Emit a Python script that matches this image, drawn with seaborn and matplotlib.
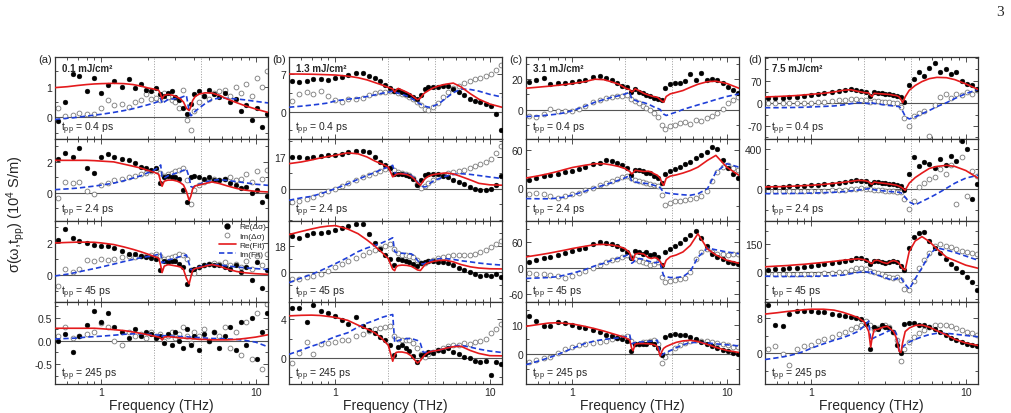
import numpy as np
import matplotlib
matplotlib.use("Agg")
import matplotlib.pyplot as plt
import seaborn as sns
from matplotlib.ticker import AutoMinorLocator, FixedLocator, LogLocator, NullFormatter
from matplotlib.lines import Line2D

# frequency grids (THz)
FREQ_DATA = [0.52, 0.58, 0.65, 0.72, 0.8, 0.9, 1.0, 1.1, 1.2, 1.35,
             1.5, 1.65, 1.8, 1.95, 2.1, 2.25, 2.4, 2.55, 2.7, 2.85,
             3.0, 3.2, 3.4, 3.6, 3.8, 4.0, 4.3, 4.6, 5.0, 5.4,
             5.8, 6.3, 6.8, 7.4, 8.0, 8.7, 9.4, 10.2, 11.0, 11.8]
FREQ_FIT = [0.5, 0.6, 0.7, 0.8, 0.9, 1.0, 1.2, 1.4, 1.6, 1.8,
            2.0, 2.2, 2.35, 2.42, 2.47, 2.55, 2.7, 2.9, 3.1, 3.25,
            3.4, 3.55, 3.7, 3.8, 3.9, 4.05, 4.3, 4.7, 5.2, 5.8,
            6.5, 7.5, 8.5, 10.0, 12.0]

# ---- (a) 0.1 mJ/cm2 ----
a1_re = [-0.12, 0.5, 1.42, 1.35, 0.85, 1.3, 0.8, 1.05, 1.2, 1.0, 1.25, 0.95, 1.1, 0.9, 0.85, 0.95, 0.75, 0.7, 0.8, 0.85,
         0.65, 0.55, 0.3, 0.1, 0.45, 0.75, 0.85, 0.7, 0.9, 0.75, 0.65, 0.8, 0.5, 0.6, 0.2, 0.4, -0.1, 0.3, -0.3, 0.1]
a1_im = [0.3, 0.05, 0.08, 0.15, 0.12, 0.1, 0.3, 0.55, 0.4, 0.45, 0.35, 0.5, 0.55, 0.75, 0.6, 0.62, 0.55, 0.8, 0.65, 0.55,
         0.5, 0.3, 0.9, -0.1, -0.4, 0.2, 0.5, 0.7, 0.6, 0.8, 0.85, 0.9, 0.7, 1.0, 0.8, 1.1, 0.7, 1.3, 1.0, 1.5]
a1_fit_re = [0.97, 1.0, 1.04, 1.07, 1.09, 1.1, 1.11, 1.1, 1.07, 1.02, 0.96, 0.92, 0.88, 0.75, 0.6, 0.72, 0.75, 0.72,
             0.66, 0.6, 0.5, 0.3, 0.22, 0.35, 0.55, 0.68, 0.76, 0.8, 0.79, 0.72, 0.6, 0.48, 0.38, 0.27, 0.16]
a1_fit_im = [-0.07, -0.03, 0.0, 0.04, 0.07, 0.1, 0.16, 0.22, 0.28, 0.35, 0.41, 0.47, 0.52, 0.62, 0.45, 0.5, 0.58, 0.6,
             0.62, 0.64, 0.68, 0.72, 0.2, 0.05, 0.1, 0.2, 0.3, 0.45, 0.58, 0.63, 0.62, 0.6, 0.57, 0.52, 0.47]

a2_re = [2.2, 2.6, 2.3, 2.9, 1.6, 1.3, 2.3, 2.5, 2.3, 2.2, 2.1, 1.9, 1.7, 1.6, 1.5, 1.6, 0.6, 1.0, 1.1, 1.0,
         1.0, 0.9, 0.2, -0.6, 1.0, 1.1, 1.0, 0.9, 1.0, 0.85, 0.8, 0.9, 0.6, 0.5, 0.3, 0.4, 0.0, 0.2, -0.6, -0.2]
a2_im = [-0.35, 0.7, 0.65, 0.7, 0.1, -0.05, 0.5, 0.6, 0.8, 0.9, 1.0, 1.1, 1.2, 1.3, 1.4, 1.5, 1.3, 1.1, 1.2, 1.3,
         1.4, 1.5, 1.6, 0.8, -0.7, 0.2, 0.5, 0.7, 0.8, 0.9, 0.8, 0.9, 1.0, 0.8, 0.9, 1.2, 0.7, 1.4, 0.9, 1.5]
a2_fit_re = [2.1, 2.1, 2.1, 2.1, 2.08, 2.05, 2.0, 1.85, 1.72, 1.6, 1.45, 1.32, 1.2, 0.7, 0.42, 0.75, 0.82, 0.82,
             0.75, 0.65, 0.5, 0.1, -0.5, -0.2, 0.25, 0.45, 0.5, 0.6, 0.7, 0.6, 0.45, 0.28, 0.17, 0.09, 0.05]
a2_fit_im = [0.2, 0.25, 0.3, 0.37, 0.43, 0.5, 0.62, 0.78, 0.95, 1.1, 1.3, 1.48, 1.65, 1.8, 1.0, 0.95, 1.1, 1.2,
             1.3, 1.38, 1.45, 1.55, 1.0, 0.4, 0.35, 0.45, 0.55, 0.7, 0.8, 0.85, 0.8, 0.72, 0.65, 0.55, 0.48]

a3_re = [2.2, 2.85, 2.3, 2.1, 2.0, 1.9, 1.8, 1.8, 1.7, 1.5, 1.3, 1.3, 1.2, 1.1, 1.05, 1.0, 0.3, 0.9, 0.8, 0.9,
         0.85, 0.7, 0.5, -0.55, 0.3, 0.4, 0.5, 0.6, 0.7, 0.6, 0.65, 0.5, 0.4, 0.6, 0.2, 0.5, -0.3, 0.8, -0.8, 0.3]
a3_im = [-0.7, 0.4, 0.2, 0.35, 0.95, 0.9, 1.0, 0.95, 1.0, 1.1, 1.2, 1.15, 1.2, 1.2, 1.25, 1.3, 1.2, 1.0, 1.05, 1.1,
         1.2, 1.3, 1.25, 1.0, 0.3, 0.15, 0.5, 0.6, 0.7, 0.75, 0.7, 0.8, 0.6, 0.7, 0.5, 0.9, 0.4, 1.2, 0.6, 1.3]
a3_fit_re = [2.0, 2.03, 2.05, 2.05, 2.04, 2.0, 1.9, 1.75, 1.6, 1.45, 1.3, 1.15, 1.05, 0.6, 0.15, 0.55, 0.65, 0.6,
             0.55, 0.5, 0.35, -0.2, -0.55, -0.1, 0.3, 0.4, 0.45, 0.55, 0.65, 0.55, 0.38, 0.22, 0.14, 0.08, 0.04]
a3_fit_im = [-0.06, 0.05, 0.18, 0.3, 0.4, 0.5, 0.68, 0.84, 0.97, 1.08, 1.15, 1.22, 1.3, 1.38, 0.75, 0.8, 0.95, 1.0,
             1.1, 1.15, 1.2, 1.25, 0.7, 0.35, 0.3, 0.4, 0.5, 0.6, 0.65, 0.62, 0.57, 0.5, 0.45, 0.4, 0.34]

a4_re = [0.0, 0.15, -0.25, 0.1, 0.35, 0.65, 0.4, 0.6, 0.3, 0.2, 0.05, 0.25, 0.1, 0.2, 0.15, 0.05, 0.1, -0.05, 0.15, -0.1,
         0.2, 0.0, -0.15, 0.25, -0.1, 0.1, -0.2, 0.15, 0.0, 0.2, -0.15, 0.1, 0.3, -0.2, 0.4, -0.1, 0.5, -0.4, 0.2, 0.6]
a4_im = [0.1, 0.3, 0.05, 0.1, 0.15, 0.2, 0.38, 0.3, 0.0, -0.08, 0.2, 0.1, 0.15, 0.05, 0.2, 0.1, 0.15, 0.0, 0.1, 0.2,
         0.05, 0.15, 0.3, 0.1, -0.05, 0.2, 0.1, 0.25, 0.0, 0.2, 0.1, 0.3, -0.15, 0.2, -0.3, 0.4, -0.4, 0.6, -0.6, 0.8]
a4_fit_re = [0.27, 0.27, 0.27, 0.27, 0.27, 0.26, 0.24, 0.22, 0.19, 0.16, 0.13, 0.1, 0.08, 0.06, 0.02, 0.08, 0.09, 0.08,
             0.07, 0.06, 0.06, 0.05, 0.05, 0.05, 0.04, 0.04, 0.03, 0.03, 0.02, 0.02, 0.02, 0.03, 0.05, 0.08, 0.13]
a4_fit_im = [0.04, 0.05, 0.06, 0.08, 0.09, 0.1, 0.12, 0.14, 0.15, 0.15, 0.14, 0.13, 0.12, 0.15, 0.1, 0.11, 0.11, 0.1,
             0.1, 0.09, 0.09, 0.09, 0.08, 0.08, 0.08, 0.07, 0.07, 0.06, 0.05, 0.05, 0.04, 0.03, 0.01, -0.03, -0.13]

# ---- (b) 1.3 mJ/cm2 ----
b1_re = [5.6, 5.5, 5.7, 6.0, 6.1, 5.8, 6.2, 6.5, 6.8, 7.2, 7.1, 6.7, 6.2, 5.6, 4.9, 4.4, 3.8, 4.0, 3.6, 3.3,
         3.1, 2.8, 2.4, 3.0, 4.2, 4.6, 4.5, 4.6, 4.8, 4.7, 4.2, 3.6, 3.0, 2.4, 2.0, 1.7, 1.4, 1.0, -0.5, -3.5]
b1_im = [2.0, 3.2, 3.6, 3.3, 3.9, 2.9, 2.2, 1.7, 2.3, 2.4, 2.6, 3.0, 3.4, 3.6, 3.7, 3.9, 3.8, 3.4, 3.3, 3.0,
         2.8, 2.4, 1.8, 1.2, 0.5, 0.2, 0.8, 1.5, 2.8, 3.6, 4.3, 4.8, 5.3, 5.6, 6.0, 6.3, 6.6, 7.0, 7.8, 8.6]
b1_fit_re = [7.0, 6.98, 6.95, 6.9, 6.85, 6.8, 6.6, 6.3, 5.9, 5.4, 4.95, 4.5, 4.2, 3.6, 4.0, 4.3, 4.0, 3.6,
             3.1, 2.6, 2.2, 2.5, 3.2, 3.5, 3.7, 4.0, 4.4, 4.8, 5.1, 5.3, 4.6, 3.3, 2.3, 1.4, 0.8]
b1_fit_im = [0.8, 1.0, 1.2, 1.4, 1.6, 2.0, 2.3, 2.5, 2.8, 3.1, 3.4, 3.6, 3.8, 3.9, 3.5, 3.4, 3.2, 2.9,
             2.5, 2.1, 1.7, 1.4, 1.1, 1.0, 0.9, 0.8, 1.0, 1.5, 2.5, 3.5, 4.2, 4.1, 3.8, 3.2, 2.7]

b2_re = [17.0, 17.0, 16.5, 17.0, 17.3, 17.8, 18.2, 18.8, 19.4, 20.0, 20.3, 19.5, 16.8, 14.5, 12.5, 11.0, 8.0, 8.0, 7.6, 7.4,
         6.8, 5.0, 2.0, 4.5, 7.2, 7.8, 7.8, 7.6, 7.0, 6.0, 4.8, 3.6, 2.4, 1.0, 0.0, -1.0, -0.8, -0.5, 2.0, 7.0]
b2_im = [-7.0, -6.5, -5.5, -4.5, -3.0, -1.5, 0.0, 1.5, 3.0, 4.5, 6.0, 7.2, 8.2, 9.5, 10.3, 11.0, 10.0, 9.0, 8.5, 8.0,
         7.2, 5.5, 2.5, 0.5, 1.5, 3.0, 4.8, 6.0, 7.2, 8.2, 9.0, 9.6, 10.2, 11.0, 12.0, 13.2, 14.5, 16.0, 19.0, 23.0]
b2_fit_re = [13.4, 14.3, 15.4, 16.5, 17.3, 17.9, 19.2, 18.7, 17.0, 14.8, 13.2, 11.6, 6.3, 7.0, 7.6, 8.0, 7.9, 7.5,
             6.5, 5.0, 3.0, 1.8, 4.0, 5.2, 6.0, 6.8, 7.5, 8.0, 8.4, 7.9, 6.5, 4.6, 2.8, 2.0, 1.8]
b2_fit_im = [-6.3, -5.0, -4.2, -2.8, -1.4, 0.0, 2.5, 5.0, 7.0, 8.7, 10.3, 11.6, 12.5, 8.5, 8.0, 8.0, 8.0, 8.0,
             7.0, 5.5, 3.6, 2.0, 1.0, 0.9, 1.2, 2.5, 4.0, 5.4, 6.7, 7.6, 8.0, 7.6, 7.0, 6.2, 5.4]

b3_re = [24.5, 23.5, 25.5, 26.8, 26.5, 27.5, 28.5, 30.5, 31.5, 32.7, 33.2, 26.0, 20.0, 16.0, 12.0, 9.0, 5.0, 9.0, 8.5, 7.5,
         7.0, 5.5, 4.5, 6.0, 7.0, 7.5, 7.5, 7.0, 7.0, 6.5, 5.0, 3.0, 1.5, 0.0, -1.5, -2.9, -2.0, -2.8, -1.5, -3.0]
b3_im = [-5.0, -4.5, -3.5, -2.5, -1.0, 1.0, 3.5, 5.5, 7.5, 9.5, 11.5, 13.5, 15.0, 16.5, 18.0, 19.5, 16.0, 13.0, 12.0, 11.5,
         11.0, 10.0, 8.5, 6.5, 6.0, 7.5, 8.5, 9.5, 10.5, 11.0, 11.5, 11.8, 12.0, 12.0, 12.5, 13.5, 15.0, 17.0, 19.5, 21.5]
b3_fit_re = [25.7, 27.8, 29.5, 30.8, 31.5, 31.8, 29.5, 26.3, 22.0, 17.8, 13.5, 9.2, 2.0, 1.0, 3.5, 4.5, 4.8, 4.6,
             4.0, 2.8, 1.5, 1.1, 3.5, 5.0, 5.9, 6.5, 7.3, 8.0, 8.1, 7.0, 5.2, 3.6, 2.8, 2.3, 2.2]
b3_fit_im = [-7.2, -4.0, -1.5, 1.0, 3.5, 5.8, 10.0, 14.0, 16.5, 18.3, 20.0, 22.0, 23.5, 14.0, 13.5, 13.2, 12.9, 12.7,
             12.5, 11.0, 8.0, 6.0, 5.5, 6.0, 6.5, 7.5, 8.5, 9.2, 9.2, 8.7, 7.8, 7.0, 6.2, 5.4, 4.8]

b4_re = [5.2, 5.2, 3.7, 5.5, 4.9, 4.7, 4.4, 3.9, 3.5, 4.2, 3.3, 2.9, 2.6, 2.2, 1.8, 1.3, 0.3, 1.1, 1.3, 1.0,
         0.7, 0.2, -0.4, 0.3, 0.4, 0.6, 0.5, 0.8, 0.7, 1.0, 0.6, 0.4, 0.1, 0.0, -0.3, -0.4, -0.3, -1.8, -0.4, -0.6]
b4_im = [-0.5, 0.5, 1.6, 0.4, 1.4, 1.5, 1.6, 1.8, 1.9, 2.3, 2.5, 2.8, 3.0, 3.1, 3.2, 3.3, 2.3, 2.0, 1.8, 1.9,
         1.8, 1.5, 1.0, 0.4, 0.1, 0.4, 0.6, 0.8, 1.0, 1.2, 1.3, 1.3, 1.5, 1.4, 1.6, 1.7, 2.0, 2.6, 3.0, 3.5]
b4_fit_re = [4.36, 4.42, 4.44, 4.4, 4.3, 4.2, 3.9, 3.4, 3.0, 2.6, 2.0, 1.3, -0.36, 0.3, 0.55, 0.6, 0.6, 0.5,
             0.2, -0.2, -0.55, -0.3, 0.1, 0.3, 0.45, 0.6, 0.7, 0.8, 1.0, 1.15, 1.2, 0.75, 0.45, 0.22, 0.2]
b4_fit_im = [0.36, 0.8, 1.2, 1.5, 1.9, 2.2, 2.6, 3.2, 3.6, 3.9, 4.2, 4.4, 4.5, 1.6, 1.7, 1.8, 1.9, 2.0,
             2.0, 1.9, 1.8, 1.5, 0.6, 0.55, 0.6, 0.65, 0.7, 0.8, 1.0, 1.2, 1.3, 1.1, 0.9, 0.7, 0.55]

# ---- (c) 3.1 mJ/cm2 ----
c1_re = [18.0, 19.0, 20.5, 16.5, 17.0, 17.5, 18.0, 18.5, 19.0, 21.5, 22.0, 20.5, 19.0, 17.0, 15.5, 14.5, 11.5, 13.5, 11.5, 10.5,
         9.5, 8.5, 7.5, 7.0, 6.5, 14.0, 16.5, 17.0, 17.5, 18.5, 23.0, 19.0, 24.0, 19.5, 20.0, 19.0, 17.0, 15.0, 13.0, 11.0]
c1_im = [-4.0, -5.0, -3.0, 0.4, -0.8, -0.7, -1.0, 0.5, 2.6, 4.8, 6.5, 7.5, 8.0, 8.5, 9.0, 9.2, 7.0, 5.5, 4.0, 2.5,
         1.0, -0.5, -2.0, -5.0, -10.0, -12.5, -11.0, -10.0, -9.0, -8.0, -9.5, -7.0, -7.5, -5.5, -4.5, -2.0, 0.5, 4.0, 6.5, 8.0]
c1_fit_re = [13.9, 14.6, 15.2, 15.8, 16.4, 17.0, 18.2, 19.8, 19.5, 18.0, 16.5, 14.0, 13.0, 11.5, 12.0, 13.5, 12.3, 10.5,
             9.5, 8.8, 8.3, 8.0, 6.5, 5.5, 4.8, 8.5, 10.2, 11.2, 12.4, 14.5, 16.5, 18.2, 18.5, 17.0, 13.9]
c1_fit_im = [-4.6, -4.2, -3.6, -3.0, -2.0, -0.7, 2.0, 4.8, 6.5, 8.0, 9.0, 10.2, 11.3, 7.0, 6.5, 6.0, 5.0, 4.5,
             3.5, 2.5, 1.5, 0.8, 0.0, -1.5, -3.0, -3.9, -3.0, -1.7, 0.0, 1.5, 3.0, 4.8, 6.5, 8.5, 10.2]

c2_re = [12.0, 16.0, 18.0, 20.0, 22.0, 24.5, 27.0, 30.0, 33.0, 38.0, 40.5, 44.0, 42.5, 40.0, 36.0, 31.0, 20.0, 29.0, 29.0, 27.0,
         24.0, 23.0, 18.0, 16.0, 8.0, 22.0, 27.0, 30.0, 33.0, 38.0, 42.0, 47.0, 53.0, 58.0, 65.0, 62.0, 45.0, 32.0, 22.0, 16.0]
c2_im = [-10.0, -9.0, -10.0, -14.0, -16.5, -13.0, -10.5, -8.0, -4.0, 0.0, 3.5, 7.0, 10.0, 14.0, 17.0, 19.5, 15.0, 12.0, 10.0, 9.0,
         8.0, 6.0, 4.0, 2.0, -12.0, -28.0, -24.0, -22.0, -21.0, -20.0, -18.0, -16.0, -14.0, -5.0, 10.0, 25.0, 33.0, 36.0, 32.0, 28.0]
c2_fit_re = [15.5, 19.0, 22.5, 26.0, 29.5, 32.5, 36.0, 38.5, 38.5, 36.5, 34.0, 30.5, 26.0, 22.0, 24.0, 28.0, 27.0, 26.0,
             26.5, 25.0, 22.0, 20.0, 15.0, 8.0, 3.7, 15.0, 18.5, 20.5, 23.5, 27.5, 33.0, 44.0, 52.0, 33.0, 19.8]
c2_fit_im = [-17.7, -18.0, -18.0, -17.0, -15.0, -12.0, -6.0, 0.0, 4.0, 8.0, 12.0, 16.0, 19.8, 10.2, 9.5, 9.0, 8.0, 7.0,
             6.4, 5.0, 3.5, 2.0, 0.0, -4.0, -7.0, -8.5, -9.6, -10.5, -11.5, -12.3, -10.0, -1.6, 25.0, 38.6, 33.0]

c3_re = [14.5, 18.0, 22.0, 26.0, 29.0, 35.0, 40.0, 43.0, 46.0, 55.0, 60.0, 58.0, 55.0, 50.0, 45.0, 38.0, 22.0, 40.0, 38.0, 32.0,
         36.0, 30.0, 33.0, 25.0, 8.0, 36.0, 45.0, 50.0, 58.0, 66.0, 75.0, 86.0, 70.0, 50.0, 33.0, 25.0, 20.0, 15.0, 12.0, 10.0]
c3_im = [-11.0, -13.0, -14.0, -15.0, -18.0, -22.0, -18.0, -12.0, -7.0, 0.0, 8.0, 15.0, 18.0, 21.0, 25.0, 29.0, 25.0, 20.0, 17.0, 13.0,
         11.0, 8.0, 10.0, 14.0, -20.0, -33.0, -30.0, -28.0, -26.0, -22.0, -10.0, 20.0, 38.0, 44.0, 38.0, 33.0, 33.0, 30.0, 32.0, 33.0]
c3_fit_re = [25.6, 30.0, 34.0, 38.0, 41.5, 45.0, 50.0, 54.0, 54.5, 53.0, 50.0, 44.0, 35.0, 22.0, 18.0, 32.0, 34.0, 32.0,
             24.0, 22.0, 24.0, 22.0, 15.0, 8.0, 3.7, 18.0, 26.0, 30.0, 37.0, 52.0, 79.0, 44.0, 30.0, 18.0, 11.0]
c3_fit_im = [-24.0, -23.0, -22.0, -20.0, -16.0, -12.0, -4.0, 5.0, 11.0, 18.0, 23.0, 28.0, 33.0, 11.0, 13.0, 18.0, 22.0, 20.0,
             16.0, 14.0, 12.0, 13.0, 14.6, -5.0, -18.0, -20.0, -22.0, -22.0, -20.0, -8.0, 25.0, 46.0, 42.0, 37.0, 33.0]

c4_re = [13.0, 11.2, 9.5, 9.5, 10.8, 10.5, 9.8, 9.3, 9.0, 8.0, 7.5, 6.6, 6.0, 5.5, 5.0, 4.4, 1.0, 3.5, 3.6, 3.4,
         3.6, 4.0, 3.5, 2.0, -0.3, 5.9, 6.5, 6.8, 6.5, 6.4, 5.8, 5.0, 4.2, 3.5, 2.8, 2.0, 1.5, 1.0, 0.5, 0.0]
c4_im = [-2.7, -1.8, -1.4, -0.8, 0.5, 1.8, 2.6, 3.1, 3.5, 3.8, 4.2, 4.6, 5.0, 5.4, 5.8, 6.2, 4.5, 3.5, 3.6, 4.0,
         4.2, 4.6, 4.8, 3.5, -3.0, -1.0, 0.8, 2.0, 3.0, 3.8, 4.3, 4.7, 4.5, 4.3, 4.0, 3.8, 3.5, 3.0, 2.6, 2.3]
c4_fit_re = [9.4, 10.0, 10.5, 10.6, 10.4, 10.2, 9.4, 8.6, 7.8, 7.0, 6.3, 5.6, 4.8, 2.0, 1.2, 3.4, 3.6, 3.6,
             3.5, 3.4, 3.2, 2.6, -0.6, 1.0, 2.0, 2.6, 3.2, 4.0, 4.5, 4.7, 4.3, 3.3, 2.3, 1.3, 0.6]
c4_fit_im = [-3.5, -2.3, -1.2, -0.1, 1.0, 2.0, 3.6, 4.5, 5.0, 5.3, 5.5, 5.9, 6.5, 3.5, 3.7, 3.9, 4.1, 4.2,
             4.3, 4.4, 4.6, 4.7, 0.2, -0.3, 0.2, 0.6, 1.2, 2.2, 3.2, 3.9, 4.0, 3.8, 3.5, 3.2, 2.8]

# ---- (d) 7.5 mJ/cm2 ----
d1_re = [16.0, 17.0, 18.0, 19.5, 21.0, 24.0, 27.0, 30.0, 32.0, 35.0, 38.0, 40.0, 44.0, 42.0, 38.0, 34.0, 22.0, 34.0, 32.0, 31.0,
         30.0, 28.0, 26.0, 24.0, 20.0, 5.0, 55.0, 75.0, 95.0, 85.0, 110.0, 125.0, 98.0, 105.0, 90.0, 95.0, 70.0, 60.0, 55.0, 45.0]
d1_im = [2.0, 2.0, 1.5, 1.0, 1.0, 2.0, 2.0, 3.0, 4.0, 6.0, 9.0, 11.0, 12.0, 13.0, 11.0, 9.0, 5.0, 8.0, 6.0, 5.0,
         4.0, 3.0, 2.0, 0.0, -10.0, -45.0, -70.0, -38.0, -30.0, -25.0, -100.0, -5.0, 20.0, 30.0, 15.0, 30.0, 25.0, 35.0, 30.0, 40.0]
d1_fit_re = [19.6, 21.0, 22.5, 24.0, 26.0, 27.8, 31.0, 35.0, 40.0, 42.0, 37.0, 33.0, 32.0, 24.0, 21.0, 31.0, 30.0, 29.0,
             28.0, 27.0, 25.0, 24.0, 20.0, 12.0, 2.0, 20.0, 40.0, 55.0, 67.0, 76.0, 80.0, 79.0, 73.0, 60.0, 43.0]
d1_fit_im = [-13.4, -13.4, -13.0, -12.5, -12.0, -11.0, -9.5, -8.0, -5.0, -1.0, 2.0, 1.0, -1.0, 6.0, 1.0, 0.0, -2.0, -4.0,
             -6.0, -7.0, -8.0, -9.0, -10.0, -15.0, -24.0, -40.0, -48.0, -42.0, -32.0, -22.0, -10.0, 2.0, 15.0, 30.0, 43.0]

d2_re = [20, 22, 24, 28, 30, 35, 38, 42, 48, 55, 62, 70, 82, 90, 85, 80, 50, 75, 68, 62,
         60, 55, 50, 45, 35, -10, 150, 320, 230, 270, 250, 210, 300, 240, 330, 280, 480, 400, -100, 50]
d2_im = [-15, -15, -18, -18, -18, -18, -18, -16, -15, -12, -8, -5, 0, 5, 8, 5, 0, -5, -10, -12,
         -15, -18, -20, -25, -30, -100, -190, -120, 20, 60, 100, 120, 200, 150, 240, -150, 320, -70, 180, 130]
d2_fit_re = [23, 25, 28, 32, 36, 39, 48, 58, 68, 78, 88, 85, 75, 55, 50, 72, 65, 60,
             55, 50, 45, 40, 30, 22, 10, -10, 60, 115, 160, 205, 225, 236, 225, 185, 110]
d2_fit_im = [-43, -43, -42, -41, -40, -38, -34, -30, -24, -16, -8, 0, 5, 15, 0, -5, -10, -15,
             -20, -23, -25, -27, -30, -35, -45, -80, -125, -155, -120, -85, -45, 10, 60, 110, 138]

d3_re = [10, 12, 15, 18, 22, 26, 30, 35, 40, 48, 55, 60, 65, 75, 72, 65, 40, 60, 60, 55,
         45, 52, 60, 50, 30, 10, 130, 190, 210, 215, 170, 130, 100, 70, 40, 20, 0, -30, -60, -100]
d3_im = [-10, -12, -13, -14, -15, -15, -14, -12, -10, -8, -5, 0, 10, 18, 22, 15, 5, 0, -8, -15,
         -25, -32, -38, -30, -45, -95, -100, -50, 20, 62, 100, 140, 150, 140, 135, 125, 115, 110, 100, 95]
d3_fit_re = [26, 30, 33, 37, 40, 44, 50, 56, 62, 66, 70, 65, 55, 45, 44, 60, 62, 50,
             44, 55, 60, 56, 45, 30, 15, 9, 110, 168, 192, 165, 125, 79, 60, 35, 18]
d3_fit_im = [-26, -27, -27, -27, -26, -26, -25, -23, -20, -12, -5, 0, -5, 9, -10, -12, -20, -30,
             -38, -44, -44, -40, -30, -35, -50, -70, -97, -40, 20, 95, 130, 118, 105, 85, 62]

d4_re = [11.0, 6.6, 6.2, 9.0, 9.6, 9.8, 9.6, 9.5, 9.4, 9.0, 8.8, 8.6, 8.4, 8.2, 7.8, 6.8, 1.0, 6.0, 5.6, 6.4,
         6.0, 5.8, 5.0, 2.0, 0.2, 6.8, 7.0, 7.0, 6.6, 6.4, 6.0, 5.5, 5.0, 4.2, 3.5, 3.0, 2.6, 2.2, 2.0, 1.6]
d4_im = [1.0, 1.8, -0.2, -2.6, 1.0, 1.6, 2.0, 2.8, 3.2, 3.8, 4.4, 5.0, 5.5, 6.0, 6.5, 7.5, 6.5, 5.5, 5.8, 6.2,
         6.4, 6.0, 5.0, 3.0, -1.8, 1.0, 2.5, 3.8, 4.6, 5.4, 6.0, 6.4, 6.6, 6.4, 6.2, 5.8, 5.4, 5.0, 4.6, 4.2]
d4_fit_re = [9.0, 9.3, 9.6, 9.8, 10.0, 10.1, 10.1, 9.9, 9.4, 8.8, 8.2, 7.2, 5.0, 1.4, 3.5, 5.4, 5.5, 6.0,
             6.2, 5.6, 5.0, 3.5, 0.5, 0.2, 2.5, 5.0, 5.8, 6.4, 6.5, 6.0, 5.2, 4.2, 3.2, 2.4, 1.8]
d4_fit_im = [-1.4, -1.0, -0.6, -0.1, 0.5, 1.2, 2.2, 3.0, 3.6, 4.3, 5.0, 6.3, 7.4, 3.0, 3.3, 3.6, 4.0, 4.5,
             5.0, 5.3, 5.4, 4.5, 0.6, 1.0, 1.5, 2.0, 2.6, 3.2, 3.8, 4.3, 4.6, 4.6, 4.4, 4.1, 3.8]

LETTERS = ["(a)", "(b)", "(c)", "(d)"]
FLUENCES = ["0.1 mJ/cm²", "1.3 mJ/cm²", "3.1 mJ/cm²", "7.5 mJ/cm²"]
DELAYS = ["0.4", "2.4", "45", "245"]
PHONON_LINES = [2.2, 4.4]

YLIMS = [[(-0.7, 1.97), (-1.8, 3.5), (-1.7, 3.4), (-0.93, 0.83)],
         [(-5.07, 10.16), (-17.2, 26.8), (-20.6, 35.3), (-2.73, 5.78)],
         [(-19.1, 34.3), (-53, 78.8), (-79, 109.6), (-10, 17.5)],
         [(-109, 142.7), (-308, 498), (-169, 280.7), (-7, 11.7)]]
YTICKS = [[[0, 1], [0, 2], [0, 2], [-0.5, 0.0, 0.5]],
          [[0, 7], [0, 17], [0, 18], [0, 4]],
          [[0, 20], [0, 60], [-60, 0, 60], [0, 10]],
          [[-70, 0, 70], [0, 400], [0, 150], [0, 8]]]
YTICKLABELS = [[["0", "1"], ["0", "2"], ["0", "2"], ["-0.5", "0.0", "0.5"]],
               [["0", "7"], ["0", "17"], ["0", "18"], ["0", "4"]],
               [["0", "20"], ["0", "60"], ["-60", "0", "60"], ["0", "10"]],
               [["-70", "0", "70"], ["0", "400"], ["0", "150"], ["0", "8"]]]

PANELS = [
    [(a1_re, a1_im, a1_fit_re, a1_fit_im), (a2_re, a2_im, a2_fit_re, a2_fit_im),
     (a3_re, a3_im, a3_fit_re, a3_fit_im), (a4_re, a4_im, a4_fit_re, a4_fit_im)],
    [(b1_re, b1_im, b1_fit_re, b1_fit_im), (b2_re, b2_im, b2_fit_re, b2_fit_im),
     (b3_re, b3_im, b3_fit_re, b3_fit_im), (b4_re, b4_im, b4_fit_re, b4_fit_im)],
    [(c1_re, c1_im, c1_fit_re, c1_fit_im), (c2_re, c2_im, c2_fit_re, c2_fit_im),
     (c3_re, c3_im, c3_fit_re, c3_fit_im), (c4_re, c4_im, c4_fit_re, c4_fit_im)],
    [(d1_re, d1_im, d1_fit_re, d1_fit_im), (d2_re, d2_im, d2_fit_re, d2_fit_im),
     (d3_re, d3_im, d3_fit_re, d3_fit_im), (d4_re, d4_im, d4_fit_re, d4_fit_im)],
]

RED = "#e41a1c"
BLUE = "#1f3fd8"
OPEN_EDGE = "#7a7a7a"

sns.set_style("ticks")
plt.rcParams["font.family"] = ["Liberation Sans", "DejaVu Sans"]
plt.rcParams["mathtext.fontset"] = "custom"
plt.rcParams["mathtext.rm"] = "Liberation Sans"
plt.rcParams["mathtext.it"] = "Liberation Sans:italic"
plt.rcParams["mathtext.bf"] = "Liberation Sans:bold"

W, H = 1012, 414
fig = plt.figure(figsize=(W / 100, H / 100), dpi=100)

col_left = [55, 289, 526, 765]
panel_w = 213
top = 58
panel_h = 81.75

for c in range(4):
    for r in range(4):
        re, im, fit_re, fit_im = PANELS[c][r]
        bottom = 1 - (top + (r + 1) * panel_h) / H
        ax = fig.add_axes([col_left[c] / W, bottom, panel_w / W, panel_h / H])

        for f in PHONON_LINES:
            ax.axvline(f, color="#9a9a9a", ls=":", lw=0.7, zorder=1)
        ax.axhline(0, color="#555555", lw=0.8, zorder=1)

        sns.scatterplot(x=FREQ_DATA, y=im, ax=ax, s=12, marker="o", color="white",
                        edgecolor=OPEN_EDGE, linewidth=0.6, zorder=2)
        sns.scatterplot(x=FREQ_DATA, y=re, ax=ax, s=12, marker="o", color="black",
                        edgecolor="black", linewidth=0.3, zorder=3)
        sns.lineplot(x=FREQ_FIT, y=fit_im, ax=ax, color=BLUE, lw=1.2, sort=False,
                     estimator=None, linestyle=(0, (3.2, 1.8)), zorder=4)
        sns.lineplot(x=FREQ_FIT, y=fit_re, ax=ax, color=RED, lw=1.2, sort=False,
                     estimator=None, zorder=5)

        ax.set_xscale("log")
        ax.set_xlim(0.5, 12)
        ax.set_ylim(*YLIMS[c][r])
        ax.xaxis.set_major_locator(FixedLocator([1, 10]))
        ax.xaxis.set_minor_locator(LogLocator(base=10, subs=[2, 3, 4, 5, 6, 7, 8, 9]))
        ax.xaxis.set_minor_formatter(NullFormatter())
        ax.set_yticks(YTICKS[c][r])
        ax.set_yticklabels(YTICKLABELS[c][r])
        ax.yaxis.set_minor_locator(AutoMinorLocator(2))
        ax.tick_params(which="both", direction="in", top=True, right=True,
                       labelsize=7.5, width=0.6, color="#333333", pad=2)
        ax.tick_params(which="major", length=3.5)
        ax.tick_params(which="minor", length=2)
        for sp in ax.spines.values():
            sp.set_linewidth(0.9)
            sp.set_color("#333333")

        if r < 3:
            ax.set_xticklabels([])
        else:
            ax.set_xticklabels(["1", "10"])
            ax.set_xlabel("Frequency (THz)", fontsize=10, labelpad=1)

        ax.text(0.03, 0.03, "t$_{\\rm pp}$ = " + DELAYS[r] + " ps", transform=ax.transAxes,
                fontsize=7.5, va="bottom", ha="left")
        if r == 0:
            ax.text(0.035, 0.93, FLUENCES[c], transform=ax.transAxes, fontsize=7,
                    fontweight="bold", va="top", ha="left")
            ax.text(-0.015, 0.975, LETTERS[c], transform=ax.transAxes, fontsize=8,
                    va="center", ha="right")

        if c == 0 and r == 2:
            handles = [
                Line2D([], [], ls="none", marker="o", ms=3.5, mfc="black", mec="black"),
                Line2D([], [], ls="none", marker="o", ms=3.5, mfc="white", mec=OPEN_EDGE, mew=0.6),
                Line2D([], [], color=RED, lw=1.2),
                Line2D([], [], color=BLUE, lw=1.2, ls=(0, (3.2, 1.8))),
            ]
            labels = ["Re(Δσ)", "Im(Δσ)", "Re(Fit)", "Im(Fit)"]
            ax.legend(handles, labels, loc="upper right", frameon=False, fontsize=6,
                      handlelength=2.0, handletextpad=0.4, labelspacing=0.15,
                      borderaxespad=0.15, borderpad=0.1)

fig.text(16 / W, 0.482, "σ(ω,t$_{\\rm pp}$) (10$^{\\rm 4}$ S/m)", rotation=90,
         fontsize=10.5, ha="center", va="center")
fig.text(1000 / W, 1 - 12 / H, "3", fontsize=11, family="Liberation Serif",
         ha="center", va="center")

fig.savefig("out.png", dpi=100)
